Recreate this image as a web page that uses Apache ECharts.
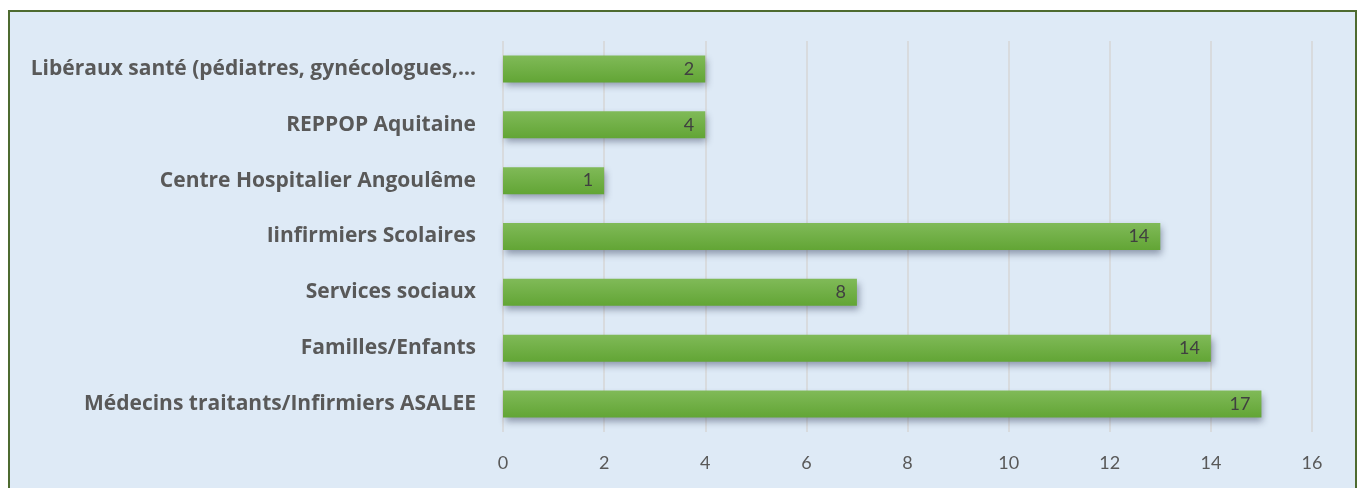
<!DOCTYPE html>
<html>
<head>
<meta charset="utf-8">
<script src="https://cdn.jsdelivr.net/npm/echarts@6/dist/echarts.min.js"></script>
<style>
  html, body { margin: 0; padding: 0; background: #ffffff; }
  #frame {
    position: absolute; left: 8px; top: 10px; width: 1349px; height: 490px;
    border: 2px solid #4e6b30; background: #deeaf6; box-sizing: border-box;
  }
  #main { position: absolute; left: 0; top: 0; width: 1361px; height: 488px; }
</style>
</head>
<body>
<div id="frame"></div>
<div id="main"></div>
<script>
// bottom to top, as the axis draws them
var categories = [
  'Médecins traitants/Infirmiers ASALEE',
  'Familles/Enfants',
  'Services sociaux',
  'Iinfirmiers Scolaires',
  'Centre Hospitalier Angoulême',
  'REPPOP Aquitaine',
  'Libéraux santé (pédiatres, gynécologues,…'
];
// bar lengths as drawn
var barValues = [15, 14, 7, 13, 2, 4, 4];
// numbers written on the bars
var barLabels = [17, 14, 8, 14, 1, 4, 2];

var chart = echarts.init(document.getElementById('main'), null, {renderer: 'canvas'});
var option = {
  backgroundColor: 'transparent',
  animation: false,
  grid: { left: 503, right: 49, top: 41, bottom: 56 },
  xAxis: {
    type: 'value',
    min: 0,
    max: 16,
    interval: 2,
    axisLine: { show: false },
    axisTick: { show: false },
    axisLabel: { color: '#595959', fontFamily: 'Lato', fontSize: 18, margin: 22 },
    splitLine: { lineStyle: { color: '#d6d6d6', width: 1.5 } }
  },
  yAxis: {
    type: 'category',
    data: categories,
    axisLine: { show: false },
    axisTick: { show: false },
    axisLabel: {
      color: '#595959', fontFamily: 'Open Sans', fontWeight: 'bold', fontSize: 21, margin: 27
    }
  },
  series: [{
    type: 'bar',
    data: barValues,
    barWidth: 27,
    itemStyle: {
      color: new echarts.graphic.LinearGradient(0, 0, 0, 1, [
        { offset: 0, color: '#80ba58' },
        { offset: 1, color: '#62a535' }
      ]),
      shadowColor: 'rgba(40,50,80,0.45)',
      shadowBlur: 7,
      shadowOffsetX: 2,
      shadowOffsetY: 4
    },
    label: {
      show: true,
      position: 'insideRight',
      distance: 11,
      color: '#404040',
      fontFamily: 'Lato',
      fontSize: 18,
      formatter: function (p) { return barLabels[p.dataIndex]; }
    }
  }]
};
chart.setOption(option);
</script>
</body>
</html>
